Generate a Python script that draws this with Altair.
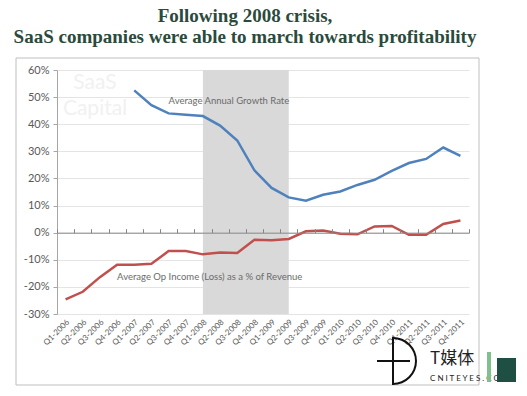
import altair as alt
import pandas as pd

quarters = ["Q1-2006", "Q2-2006", "Q3-2006", "Q4-2006",
            "Q1-2007", "Q2-2007", "Q3-2007", "Q4-2007",
            "Q1-2008", "Q2-2008", "Q3-2008", "Q4-2008",
            "Q1-2009", "Q2-2009", "Q3-2009", "Q4-2009",
            "Q1-2010", "Q2-2010", "Q3-2010", "Q4-2010",
            "Q1-2011", "Q2-2011", "Q3-2011", "Q4-2011"]
growth = [None, None, None, None,
          52.5, 47.0, 44.0, 43.5,
          43.0, 39.5, 34.0, 23.0,
          16.5, 13.0, 11.8, 14.0,
          15.2, 17.6, 19.5, 22.8,
          25.7, 27.2, 31.4, 28.3]
op_income = [-24.6, -21.8, -16.4, -11.8,
             -11.8, -11.5, -6.8, -6.8,
             -8.0, -7.3, -7.5, -2.6,
             -2.8, -2.3, 0.5, 0.8,
             -0.4, -0.6, 2.3, 2.5,
             -0.8, -0.8, 3.2, 4.5]
series_names = ["Average Annual Growth Rate", "Average Op Income (Loss) as a % of Revenue"]
series_colors = ["#4f81bd", "#c0504d"]
label_quarters = ["Q3-2007", "Q4-2006"]
label_values = [48.5, -16.2]
shade_start = ["Q1-2008"]
shade_end = ["Q2-2009"]
y_ticks = [-30, -20, -10, 0, 10, 20, 30, 40, 50, 60]

W, H = 412, 244

rows = []
for q, g, o in zip(quarters, growth, op_income):
    if g is not None:
        rows.append({"quarter": q, "series": series_names[0], "value": g})
    rows.append({"quarter": q, "series": series_names[1], "value": o})
df = pd.DataFrame(rows)

labels_df = pd.DataFrame({"quarter": label_quarters, "value": label_values, "text": series_names})
shade_df = pd.DataFrame({"start": shade_start, "end": shade_end})

xscale = alt.Scale(type="band", domain=quarters, paddingInner=0, paddingOuter=0)
yscale = alt.Scale(domain=[-30, 60], nice=False, zero=False)

y_axis = alt.Axis(values=y_ticks, labelExpr="datum.value + '%'", grid=True, labelOverlap=False,
                  gridColor="#e4e4e4", domainColor="#a6a6a6", tickColor="#a6a6a6",
                  tickSize=4, labelFont="Lato", labelFontSize=11, labelColor="#595959",
                  labelPadding=4, title=None)

frame = alt.Chart(pd.DataFrame({"a": [0]})).mark_rect(
    filled=False, stroke="#bfbfbf", strokeWidth=1
).encode(x=alt.value(-41), x2=alt.value(422), y=alt.value(-12), y2=alt.value(315))

wm = alt.Chart(pd.DataFrame({"t": ["SaaS", "Capital"], "yy": [13, 39]})).mark_text(
    font="Lato", fontSize=21, color="#f1f1f1", align="center", baseline="middle"
).encode(x=alt.value(38), y=alt.Y("yy:Q", scale=None), text="t:N")

shade = alt.Chart(shade_df).mark_rect(color="#d9d9d9").encode(
    x=alt.X("start:N", scale=xscale, bandPosition=0.5,
            axis=alt.Axis(orient="top", offset=-(H * 2 / 3), labels=False, domain=True,
                          domainColor="#868686", ticks=True, tickColor="#868686",
                          tickSize=4, tickBand="extent", grid=False, title=None, zindex=1)),
    x2=alt.X2("end:N", bandPosition=0.5),
    y=alt.value(0), y2=alt.value(H),
)

lines = alt.Chart(df).mark_line(strokeWidth=2.5).encode(
    x=alt.X("quarter:N", scale=xscale, sort=quarters,
            axis=alt.Axis(orient="bottom", labelAngle=-45, labelFont="Lato", labelFontSize=8,
                          labelColor="#595959", domain=False, ticks=False, grid=False,
                          labelOverlap=False, labelPadding=4, title=None)),
    y=alt.Y("value:Q", scale=yscale, axis=y_axis),
    color=alt.Color("series:N", scale=alt.Scale(domain=series_names, range=series_colors), legend=None),
)

ann = alt.Chart(labels_df).mark_text(
    align="left", baseline="middle", font="Lato", fontSize=9.5, color="#6b6b6b"
).encode(
    x=alt.X("quarter:N", scale=xscale, axis=None),
    y=alt.Y("value:Q", scale=yscale, axis=y_axis),
    text="text:N",
)

logo_txt = alt.Chart(pd.DataFrame({"t": ["T媒体"]})).mark_text(
    font="Noto Sans CJK SC", fontSize=17, color="#222222", align="left", baseline="middle"
).encode(x=alt.value(373), y=alt.value(289), text="t:N")
logo_sub = alt.Chart(pd.DataFrame({"t": ["C N I T E Y E S . C O M"]})).mark_text(
    font="Lato", fontSize=8, color="#222222", align="left", baseline="middle"
).encode(x=alt.value(373), y=alt.value(309), text="t:N")
logo_arc = alt.Chart(pd.DataFrame({"a": [0]})).mark_arc(
    theta=0, theta2=3.14159, outerRadius=24, innerRadius=22, color="#111111"
).encode(x=alt.value(336), y=alt.value(291))
logo_h = alt.Chart(pd.DataFrame({"a": [0]})).mark_rule(color="#111111", strokeWidth=2).encode(
    x=alt.value(320), x2=alt.value(353), y=alt.value(291))
logo_v = alt.Chart(pd.DataFrame({"a": [0]})).mark_rule(color="#111111", strokeWidth=2).encode(
    x=alt.value(336), y=alt.value(267), y2=alt.value(315))
logo_g = alt.Chart(pd.DataFrame({"a": [0]})).mark_rule(color="#7fc08f", strokeWidth=4).encode(
    x=alt.value(432), y=alt.value(282), y2=alt.value(312))
logo_d = alt.Chart(pd.DataFrame({"a": [0]})).mark_rect(color="#1f4f42").encode(
    x=alt.value(440), x2=alt.value(459), y=alt.value(288), y2=alt.value(312))

chart = alt.layer(
    frame, wm, shade, lines, ann, logo_arc, logo_h, logo_v, logo_txt, logo_sub, logo_g, logo_d
).resolve_axis(x="independent").properties(
    width=W, height=H,
    autosize=alt.AutoSizeParams(type="none"),
    padding={"left": 49, "top": 62, "right": 48, "bottom": 72},
    title=alt.TitleParams(
        text=["Following 2008 crisis,", "SaaS companies were able to march towards profitability"],
        anchor="middle", dx=-18, offset=11, font="Liberation Serif", fontSize=19,
        fontWeight="bold", color="#2b4a3c", lineHeight=21,
    ),
).configure_view(stroke=None)

chart.save("out.html", embed_options={"renderer": "svg", "actions": False})
